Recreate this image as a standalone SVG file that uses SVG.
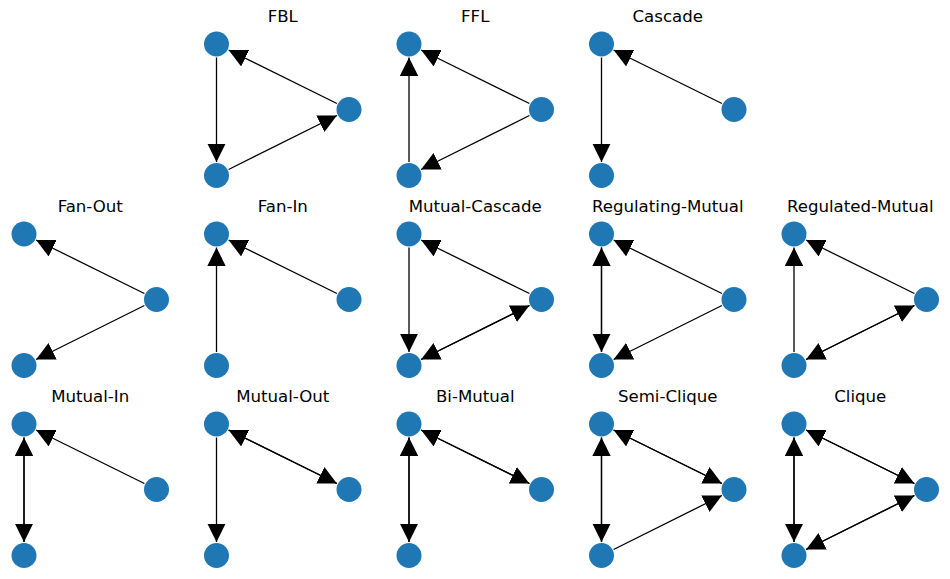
<svg xmlns="http://www.w3.org/2000/svg" width="950" height="579" viewBox="0 0 950 579">
<style>
.t{font-family:"DejaVu Sans","Liberation Sans",sans-serif;font-size:16.6px;text-anchor:middle;fill:#000}
.e{stroke:#000;stroke-width:1.3;fill:none;marker-end:url(#ah)}
.n{fill:#1f77b4}
</style>
<defs>
<marker id="ah" viewBox="0 0 18.5 18.4" refX="18.5" refY="9.2" markerWidth="18.5" markerHeight="18.4" markerUnits="userSpaceOnUse" orient="auto">
<path d="M0,0 L18.5,9.2 L0,18.4 Z" fill="#000"/>
</marker>
</defs>
<rect width="950" height="579" fill="#fff"/>

<!-- Row 1 -->
<g id="fbl" transform="translate(192.5,0)">
<text class="t" x="90.25" y="21.7">FBL</text>
<g id="fbl-edges">
<line class="e" x1="24" y1="57.5" x2="24" y2="162"/>
<line class="e" x1="36.08" y1="169.48" x2="144.42" y2="115.52"/>
<line class="e" x1="144.4" y1="103.52" x2="36.1" y2="49.98"/>
</g>
<g id="fbl-a"><circle class="n" cx="24" cy="44" r="12.5"/></g>
<g id="fbl-b"><circle class="n" cx="24" cy="175.5" r="12.5"/></g>
<g id="fbl-c"><circle class="n" cx="156.5" cy="109.5" r="12.5"/></g>
</g>

<g id="ffl" transform="translate(385,0)">
<text class="t" x="90.25" y="21.7">FFL</text>
<g id="ffl-edges">
<line class="e" x1="24" y1="162" x2="24" y2="57.5"/>
<line class="e" x1="144.4" y1="103.52" x2="36.1" y2="49.98"/>
<line class="e" x1="144.42" y1="115.52" x2="36.08" y2="169.48"/>
</g>
<g id="ffl-a"><circle class="n" cx="24" cy="44" r="12.5"/></g>
<g id="ffl-b"><circle class="n" cx="24" cy="175.5" r="12.5"/></g>
<g id="ffl-c"><circle class="n" cx="156.5" cy="109.5" r="12.5"/></g>
</g>

<g id="cascade" transform="translate(577.5,0)">
<text class="t" x="90.25" y="21.7">Cascade</text>
<g id="cascade-edges">
<line class="e" x1="144.4" y1="103.52" x2="36.1" y2="49.98"/>
<line class="e" x1="24" y1="57.5" x2="24" y2="162"/>
</g>
<g id="cascade-a"><circle class="n" cx="24" cy="44" r="12.5"/></g>
<g id="cascade-b"><circle class="n" cx="24" cy="175.5" r="12.5"/></g>
<g id="cascade-c"><circle class="n" cx="156.5" cy="109.5" r="12.5"/></g>
</g>

<!-- Row 2 -->
<g id="fanout" transform="translate(0,190)">
<text class="t" x="90.25" y="21.7">Fan-Out</text>
<g id="fanout-edges">
<line class="e" x1="144.4" y1="103.52" x2="36.1" y2="49.98"/>
<line class="e" x1="144.42" y1="115.52" x2="36.08" y2="169.48"/>
</g>
<g id="fanout-a"><circle class="n" cx="24" cy="44" r="12.5"/></g>
<g id="fanout-b"><circle class="n" cx="24" cy="175.5" r="12.5"/></g>
<g id="fanout-c"><circle class="n" cx="156.5" cy="109.5" r="12.5"/></g>
</g>

<g id="fanin" transform="translate(192.5,190)">
<text class="t" x="90.25" y="21.7">Fan-In</text>
<g id="fanin-edges">
<line class="e" x1="144.4" y1="103.52" x2="36.1" y2="49.98"/>
<line class="e" x1="24" y1="162" x2="24" y2="57.5"/>
</g>
<g id="fanin-a"><circle class="n" cx="24" cy="44" r="12.5"/></g>
<g id="fanin-b"><circle class="n" cx="24" cy="175.5" r="12.5"/></g>
<g id="fanin-c"><circle class="n" cx="156.5" cy="109.5" r="12.5"/></g>
</g>

<g id="mutual-cascade" transform="translate(385,190)">
<text class="t" x="90.25" y="21.7">Mutual-Cascade</text>
<g id="mutual-cascade-edges">
<line class="e" x1="144.4" y1="103.52" x2="36.1" y2="49.98"/>
<line class="e" x1="24" y1="57.5" x2="24" y2="162"/>
<line class="e" x1="36.08" y1="169.48" x2="144.42" y2="115.52"/>
<line class="e" x1="144.42" y1="115.52" x2="36.08" y2="169.48"/>
</g>
<g id="mutual-cascade-a"><circle class="n" cx="24" cy="44" r="12.5"/></g>
<g id="mutual-cascade-b"><circle class="n" cx="24" cy="175.5" r="12.5"/></g>
<g id="mutual-cascade-c"><circle class="n" cx="156.5" cy="109.5" r="12.5"/></g>
</g>

<g id="regulating-mutual" transform="translate(577.5,190)">
<text class="t" x="90.25" y="21.7">Regulating-Mutual</text>
<g id="regulating-mutual-edges">
<line class="e" x1="144.4" y1="103.52" x2="36.1" y2="49.98"/>
<line class="e" x1="144.42" y1="115.52" x2="36.08" y2="169.48"/>
<line class="e" x1="24" y1="57.5" x2="24" y2="162"/>
<line class="e" x1="24" y1="162" x2="24" y2="57.5"/>
</g>
<g id="regulating-mutual-a"><circle class="n" cx="24" cy="44" r="12.5"/></g>
<g id="regulating-mutual-b"><circle class="n" cx="24" cy="175.5" r="12.5"/></g>
<g id="regulating-mutual-c"><circle class="n" cx="156.5" cy="109.5" r="12.5"/></g>
</g>

<g id="regulated-mutual" transform="translate(770,190)">
<text class="t" x="90.25" y="21.7">Regulated-Mutual</text>
<g id="regulated-mutual-edges">
<line class="e" x1="144.4" y1="103.52" x2="36.1" y2="49.98"/>
<line class="e" x1="24" y1="162" x2="24" y2="57.5"/>
<line class="e" x1="36.08" y1="169.48" x2="144.42" y2="115.52"/>
<line class="e" x1="144.42" y1="115.52" x2="36.08" y2="169.48"/>
</g>
<g id="regulated-mutual-a"><circle class="n" cx="24" cy="44" r="12.5"/></g>
<g id="regulated-mutual-b"><circle class="n" cx="24" cy="175.5" r="12.5"/></g>
<g id="regulated-mutual-c"><circle class="n" cx="156.5" cy="109.5" r="12.5"/></g>
</g>

<!-- Row 3 -->
<g id="mutual-in" transform="translate(0,380)">
<text class="t" x="90.25" y="21.7">Mutual-In</text>
<g id="mutual-in-edges">
<line class="e" x1="144.4" y1="103.52" x2="36.1" y2="49.98"/>
<line class="e" x1="24" y1="57.5" x2="24" y2="162"/>
<line class="e" x1="24" y1="162" x2="24" y2="57.5"/>
</g>
<g id="mutual-in-a"><circle class="n" cx="24" cy="44" r="12.5"/></g>
<g id="mutual-in-b"><circle class="n" cx="24" cy="175.5" r="12.5"/></g>
<g id="mutual-in-c"><circle class="n" cx="156.5" cy="109.5" r="12.5"/></g>
</g>

<g id="mutual-out" transform="translate(192.5,380)">
<text class="t" x="90.25" y="21.7">Mutual-Out</text>
<g id="mutual-out-edges">
<line class="e" x1="24" y1="57.5" x2="24" y2="162"/>
<line class="e" x1="36.1" y1="49.98" x2="144.4" y2="103.52"/>
<line class="e" x1="144.4" y1="103.52" x2="36.1" y2="49.98"/>
</g>
<g id="mutual-out-a"><circle class="n" cx="24" cy="44" r="12.5"/></g>
<g id="mutual-out-b"><circle class="n" cx="24" cy="175.5" r="12.5"/></g>
<g id="mutual-out-c"><circle class="n" cx="156.5" cy="109.5" r="12.5"/></g>
</g>

<g id="bi-mutual" transform="translate(385,380)">
<text class="t" x="90.25" y="21.7">Bi-Mutual</text>
<g id="bi-mutual-edges">
<line class="e" x1="24" y1="57.5" x2="24" y2="162"/>
<line class="e" x1="24" y1="162" x2="24" y2="57.5"/>
<line class="e" x1="36.1" y1="49.98" x2="144.4" y2="103.52"/>
<line class="e" x1="144.4" y1="103.52" x2="36.1" y2="49.98"/>
</g>
<g id="bi-mutual-a"><circle class="n" cx="24" cy="44" r="12.5"/></g>
<g id="bi-mutual-b"><circle class="n" cx="24" cy="175.5" r="12.5"/></g>
<g id="bi-mutual-c"><circle class="n" cx="156.5" cy="109.5" r="12.5"/></g>
</g>

<g id="semi-clique" transform="translate(577.5,380)">
<text class="t" x="90.25" y="21.7">Semi-Clique</text>
<g id="semi-clique-edges">
<line class="e" x1="24" y1="57.5" x2="24" y2="162"/>
<line class="e" x1="24" y1="162" x2="24" y2="57.5"/>
<line class="e" x1="36.1" y1="49.98" x2="144.4" y2="103.52"/>
<line class="e" x1="144.4" y1="103.52" x2="36.1" y2="49.98"/>
<line class="e" x1="36.08" y1="169.48" x2="144.42" y2="115.52"/>
</g>
<g id="semi-clique-a"><circle class="n" cx="24" cy="44" r="12.5"/></g>
<g id="semi-clique-b"><circle class="n" cx="24" cy="175.5" r="12.5"/></g>
<g id="semi-clique-c"><circle class="n" cx="156.5" cy="109.5" r="12.5"/></g>
</g>

<g id="clique" transform="translate(770,380)">
<text class="t" x="90.25" y="21.7">Clique</text>
<g id="clique-edges">
<line class="e" x1="24" y1="57.5" x2="24" y2="162"/>
<line class="e" x1="24" y1="162" x2="24" y2="57.5"/>
<line class="e" x1="36.1" y1="49.98" x2="144.4" y2="103.52"/>
<line class="e" x1="144.4" y1="103.52" x2="36.1" y2="49.98"/>
<line class="e" x1="36.08" y1="169.48" x2="144.42" y2="115.52"/>
<line class="e" x1="144.42" y1="115.52" x2="36.08" y2="169.48"/>
</g>
<g id="clique-a"><circle class="n" cx="24" cy="44" r="12.5"/></g>
<g id="clique-b"><circle class="n" cx="24" cy="175.5" r="12.5"/></g>
<g id="clique-c"><circle class="n" cx="156.5" cy="109.5" r="12.5"/></g>
</g>
</svg>
